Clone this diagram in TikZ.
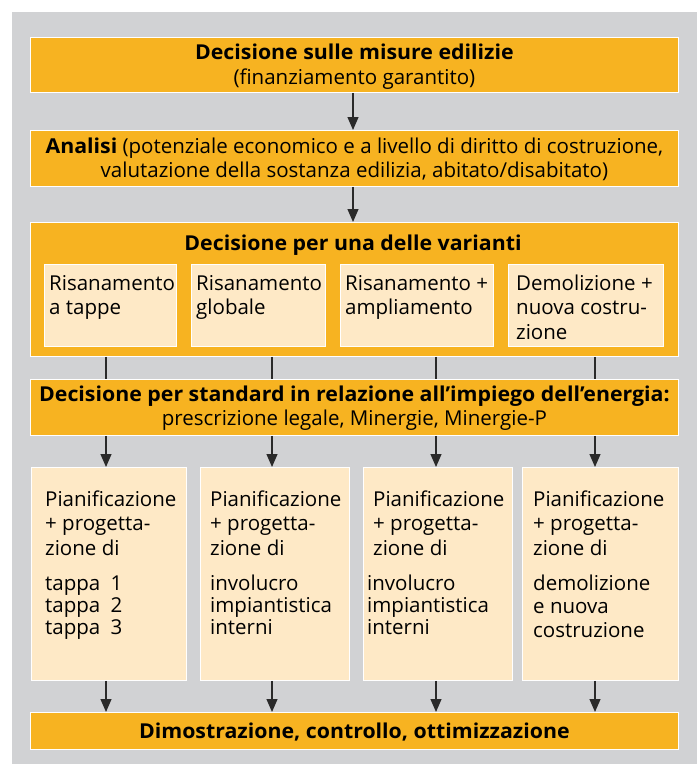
\documentclass[tikz,border=0pt]{standalone}
\usepackage{fontspec}
\setmainfont{Open Sans}[BoldFeatures={FakeStretch=1.04}]
\usetikzlibrary{arrows.meta}
\definecolor{bgc}{HTML}{D1D2D4}
\definecolor{orng}{HTML}{F7B321}
\definecolor{lite}{HTML}{FEE9C6}
\definecolor{linec}{HTML}{2A2A2A}
\newcommand{\tbl}[1]{\begin{tabular}[t]{@{}l@{}}#1\end{tabular}}
\begin{document}
\begin{tikzpicture}[x=1pt,y=-1pt,
  every node/.style={font=\fontsize{20.5}{24.5}\selectfont, text=black},
  obox/.style={draw=white, line width=0.8pt, fill=orng, inner sep=0pt, anchor=north west},
  lbox/.style={draw=white, line width=0.8pt, fill=lite, inner sep=0pt, anchor=north west},
  txt/.style={inner sep=0pt, anchor=base west},
  ctxt/.style={inner sep=0pt, align=center},
  conn/.style={draw=linec, line width=1.2pt},
  arr/.style={conn, -{Triangle[length=13pt,width=11pt]}}
]
\fill[white] (0,0) rectangle (697,764);
\fill[bgc] (12,12) rectangle (697,764);
\useasboundingbox (0,0) rectangle (697,764);

% main boxes
\node[obox, minimum width=648pt, minimum height=55pt] (b1) at (30,37) {};
\node[ctxt] at ([yshift=-2pt]b1.center) {{\bfseries Decisione sulle misure edilizie}\\(finanziamento garantito)};

\node[obox, minimum width=648pt, minimum height=56pt] (b2) at (30,130) {};
\node[ctxt] at ([yshift=-1pt]b2.center) {{\bfseries Analisi} (potenziale economico e a livello di diritto di costruzione,\\valutazione della sostanza edilizia, abitato/disabitato)};

\node[obox, minimum width=648pt, minimum height=134pt] (b3) at (30,222) {};
\node[inner sep=0pt, anchor=base] (t3) at (353,250) {\bfseries Decisione per una delle varianti};

\node[lbox, minimum width=132pt, minimum height=82pt] (v1) at (44,264) {};
\node[lbox, minimum width=134pt, minimum height=82pt] (v2) at (191,264) {};
\node[lbox, minimum width=153pt, minimum height=82pt] (v3) at (340,264) {};
\node[lbox, minimum width=155pt, minimum height=82pt] (v4) at (508,264) {};
\node[txt] at (49,290) {\tbl{Risanamento\\a tappe}};
\node[txt] at (196,290) {\tbl{Risanamento\\globale}};
\node[txt] at (345,290) {\tbl{Risanamento +\\ampliamento}};
\node[txt] at (516,290) {\tbl{Demolizione +\\nuova costru-\\zione}};

\node[obox, minimum width=648pt, minimum height=56pt] (b4) at (30,379) {};
\node[ctxt] at ([yshift=-1pt]b4.center) {{\bfseries Decisione per standard in relazione all’impiego dell’energia:}\\prescrizione legale, Minergie, Minergie-P};

\node[lbox, minimum width=155pt, minimum height=213pt] (p1) at (31,467) {};
\node[lbox, minimum width=149pt, minimum height=213pt] (p2) at (200,467) {};
\node[lbox, minimum width=149pt, minimum height=213pt] (p3) at (363,467) {};
\node[lbox, minimum width=156pt, minimum height=213pt] (p4) at (522,467) {};

\node[txt] at (45,506) {\tbl{Pianificazione\\+ progetta-\\zione di}};
\node[txt] at (45,590) {\fontsize{20.5}{22}\selectfont\tbl{tappa\enspace 1\\tappa\enspace 2\\tappa\enspace 3}};
\node[txt] at (210,506) {\tbl{Pianificazione\\+ progetta-\\zione di}};
\node[txt] at (210,590) {\fontsize{20.5}{22}\selectfont\tbl{involucro\\impiantistica\\interni}};
\node[txt] at (373,506) {\tbl{Pianificazione\\+ progetta-\\zione di}};
\node[txt] at (367,590) {\fontsize{20.5}{22}\selectfont\tbl{involucro\\impiantistica\\interni}};
\node[txt] at (533,506) {\tbl{Pianificazione\\+ progetta-\\zione di}};
\node[txt] at (533,590) {\fontsize{20.5}{23.5}\selectfont\tbl{demolizione\\e nuova\\costruzione}};

\node[obox, minimum width=648pt, minimum height=37pt] (b6) at (30,712) {};
\node[ctxt] at ([yshift=-1pt]b6.center) {\bfseries Dimostrazione, controllo, ottimizzazione};

% column positions
\coordinate (xa) at (106,0);
\coordinate (xb) at (272,0);
\coordinate (xc) at (436,0);
\coordinate (xd) at (595,0);
\coordinate (xm) at (353,0);

% connectors
\draw[arr] (b1.south -| xm) -- (b2.north -| xm);
\draw[arr] (b2.south -| xm) -- (b3.north -| xm);
\foreach \c/\p in {xa/p1, xb/p2, xc/p3, xd/p4}{
  \draw[conn] (b3.south -| \c) -- (b4.north -| \c);
  \draw[arr] (b4.south -| \c) -- (\p.north -| \c);
  \draw[arr] (\p.south -| \c) -- (b6.north -| \c);
}
\end{tikzpicture}
\end{document}
